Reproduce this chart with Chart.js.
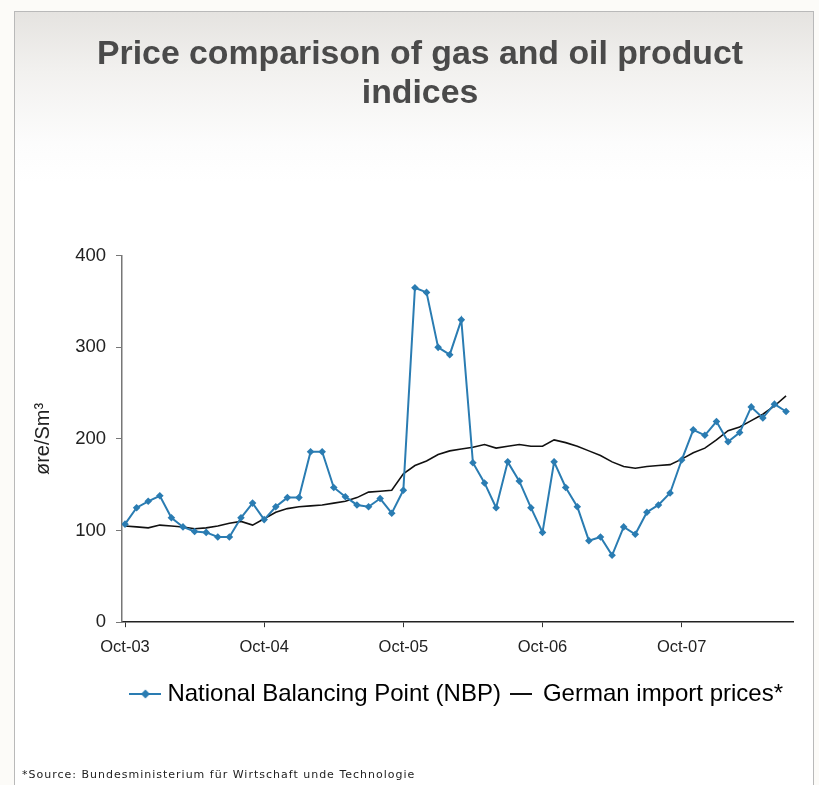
<!DOCTYPE html>
<html>
<head>
<meta charset="utf-8">
<title>Price comparison of gas and oil product indices</title>
<script src="https://cdn.jsdelivr.net/npm/chart.js@4.4.1/dist/chart.umd.min.js"></script>
<style>
  html, body { margin: 0; padding: 0; }
  body { width: 819px; height: 785px; position: relative; overflow: hidden; background: #fcfbf8; }
  #frame {
    position: absolute; left: 14px; top: 11px; width: 798px; height: 800px;
    border: 1px solid #b9b9b9;
    background: linear-gradient(#e5e3e0 0px, #f2f1ef 60px, #fcfcfc 130px, #ffffff 170px);
  }
  #chart { position: absolute; left: 0; top: 0; }
  #source {
    position: absolute; left: 22px; top: 768px;
    font: 11px "DejaVu Sans", sans-serif; letter-spacing: 1px; color: #222;
  }
</style>
</head>
<body>
<div id="frame"></div>
<canvas id="chart" width="819" height="785"></canvas>
<div id="source">*Source: Bundesministerium für Wirtschaft unde Technologie</div>

<script>
const months = [
  'Oct-03', 'Nov-03', 'Dec-03',
  'Jan-04', 'Feb-04', 'Mar-04', 'Apr-04', 'May-04', 'Jun-04', 'Jul-04', 'Aug-04', 'Sep-04', 'Oct-04', 'Nov-04', 'Dec-04',
  'Jan-05', 'Feb-05', 'Mar-05', 'Apr-05', 'May-05', 'Jun-05', 'Jul-05', 'Aug-05', 'Sep-05', 'Oct-05', 'Nov-05', 'Dec-05',
  'Jan-06', 'Feb-06', 'Mar-06', 'Apr-06', 'May-06', 'Jun-06', 'Jul-06', 'Aug-06', 'Sep-06', 'Oct-06', 'Nov-06', 'Dec-06',
  'Jan-07', 'Feb-07', 'Mar-07', 'Apr-07', 'May-07', 'Jun-07', 'Jul-07', 'Aug-07', 'Sep-07', 'Oct-07', 'Nov-07', 'Dec-07',
  'Jan-08', 'Feb-08', 'Mar-08', 'Apr-08', 'May-08', 'Jun-08', 'Jul-08'
];

const yearTicks = ['Oct-03', 'Oct-04', 'Oct-05', 'Oct-06', 'Oct-07'];

// øre/Sm³, monthly
const nbp = [
  107, 125, 132, 138, 114, 104, 99, 98, 93, 93,
  114, 130, 112, 126, 136, 136, 186, 186, 147, 137,
  128, 126, 135, 119, 144, 365, 360, 300, 292, 330,
  174, 152, 125, 175, 154, 125, 98, 175, 147, 126,
  89, 93, 73, 104, 96, 120, 128, 141, 177, 210,
  204, 219, 197, 207, 235, 223, 238, 230
];

const germanImport = [
  105, 104, 103, 106, 105, 104, 102, 103, 105, 108,
  110, 106, 113, 120, 124, 126, 127, 128, 130, 132,
  136, 142, 143, 144, 162, 171, 176, 183, 187, 189,
  191, 194, 190, 192, 194, 192, 192, 199, 196, 192,
  187, 182, 175, 170, 168, 170, 171, 172, 178, 185,
  190, 199, 209, 213, 220, 227, 236, 247
];

const yTicks = [0, 100, 200, 300, 400];

const NBP_BLUE = '#2a7cb2';
const FONT = '"Liberation Sans", Arial, sans-serif';

Chart.defaults.font.family = FONT;
Chart.defaults.color = '#222';

// small line samples used as legend symbols
function legendMark(w, color, lineWidth, diamond) {
  const c = document.createElement('canvas');
  c.width = w;
  c.height = 12;
  const g = c.getContext('2d');
  g.strokeStyle = color;
  g.lineWidth = lineWidth;
  g.beginPath();
  g.moveTo(0, 6);
  g.lineTo(w, 6);
  g.stroke();
  if (diamond) {
    g.fillStyle = color;
    g.beginPath();
    g.moveTo(w / 2, 1.5);
    g.lineTo(w / 2 + 4.5, 6);
    g.lineTo(w / 2, 10.5);
    g.lineTo(w / 2 - 4.5, 6);
    g.closePath();
    g.fill();
  }
  return c;
}

const marks = [legendMark(32, NBP_BLUE, 2, true), legendMark(22, '#111', 2, false)];

const toPoints = arr => arr.map((v, i) => ({ x: i, y: v }));

new Chart(document.getElementById('chart'), {
  type: 'line',
  data: {
    datasets: [
      {
        label: 'National Balancing Point (NBP)',
        data: toPoints(nbp),
        borderColor: NBP_BLUE,
        backgroundColor: NBP_BLUE,
        borderWidth: 2,
        pointStyle: 'rectRot',
        pointRadius: 3.8,
        pointBorderWidth: 0,
        tension: 0
      },
      {
        label: 'German import prices*',
        data: toPoints(germanImport),
        borderColor: '#111',
        backgroundColor: '#111',
        borderWidth: 1.6,
        pointRadius: 0,
        tension: 0
      }
    ]
  },
  options: {
    responsive: false,
    animation: false,
    layout: { padding: { left: 47, right: 26, top: 0, bottom: 69 } },
    scales: {
      x: {
        type: 'linear',
        min: -0.26,
        max: 57.6,
        afterBuildTicks: axis => {
          axis.ticks = yearTicks.map(l => ({ value: months.indexOf(l) }));
        },
        afterFit: axis => { axis.height += 5; },
        ticks: {
          autoSkip: false,
          maxRotation: 0,
          padding: 10,
          color: '#222',
          font: { size: 16.5 },
          callback: v => months[v]
        },
        grid: { drawOnChartArea: false, tickLength: 5, color: '#333', lineWidth: 1 },
        border: { color: '#222', width: 1.5 }
      },
      y: {
        min: 0,
        max: 400,
        afterBuildTicks: axis => {
          axis.ticks = yTicks.map(v => ({ value: v }));
        },
        afterFit: axis => { axis.width = 75; },
        ticks: { padding: 10, color: '#222', font: { size: 18.5 } },
        grid: { drawOnChartArea: false, tickLength: 6, color: '#777' },
        border: { color: '#777', width: 1.5 },
        title: {
          display: true,
          text: 'øre/Sm³',
          color: '#222',
          font: { size: 20 },
          // sits out in the left margin, well clear of the tick labels
          padding: { top: -16, bottom: 0 }
        }
      }
    },
    plugins: {
      title: {
        display: true,
        text: ['Price comparison of gas and oil product', 'indices'],
        color: '#4a4a4a',
        font: { size: 33.8, weight: 'bold', lineHeight: 1.15 },
        padding: { top: 35, bottom: 143 }
      },
      legend: {
        position: 'bottom',
        align: 'end',
        labels: {
          usePointStyle: true,
          pointStyleWidth: 20,
          padding: 10,
          color: '#222',
          font: { size: 24 },
          generateLabels: chart => chart.data.datasets.map((ds, i) => ({
            text: ds.label,
            pointStyle: marks[i],
            fillStyle: ds.borderColor,
            strokeStyle: ds.borderColor,
            lineWidth: 0,
            hidden: false,
            datasetIndex: i
          }))
        }
      },
      tooltip: { enabled: false }
    }
  }
});
</script>
</body>
</html>
